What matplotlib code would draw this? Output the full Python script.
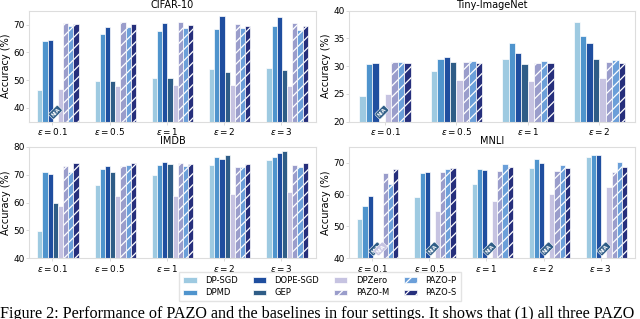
import numpy as np
import matplotlib
matplotlib.use("Agg")
import matplotlib.pyplot as plt
from matplotlib.patches import Patch
import matplotlib.transforms as mtransforms

methods = ["DP-SGD", "DPMD", "DOPE-SGD", "GEP", "DPZero", "PAZO-M", "PAZO-P", "PAZO-S"]
colors = ["#9ecae1", "#4f94cd", "#1f4e9f", "#2f5d87", "#c6c3e1", "#9a9dcb", "#6b9fd9", "#262f7c"]
hatched = [False, False, False, False, False, True, True, True]

eps5 = [r"$\varepsilon=0.1$", r"$\varepsilon=0.5$", r"$\varepsilon=1$", r"$\varepsilon=2$", r"$\varepsilon=3$"]
eps4 = eps5[:4]
NA = np.nan

# rows: methods, cols: epsilon
cifar = [
    [46.5, 49.7, 50.6, 54.0, 54.4],
    [64.1, 66.5, 67.7, 68.3, 69.6],
    [64.6, 69.2, 70.6, 73.0, 72.7],
    [NA, 49.8, 50.6, 52.8, 53.5],
    [46.8, 47.9, 48.3, 48.2, 48.0],
    [70.7, 71.1, 71.1, 70.1, 70.4],
    [69.4, 69.3, 68.7, 68.8, 68.0],
    [70.3, 70.3, 70.0, 69.6, 69.6],
]
tiny = [
    [24.7, 29.1, 31.3, 37.9],
    [30.4, 31.3, 34.1, 35.4],
    [30.6, 31.6, 32.4, 34.2],
    [NA, 30.8, 30.4, 31.3],
    [25.0, 27.5, 27.4, 27.8],
    [30.7, 30.7, 30.6, 30.7],
    [30.8, 30.9, 30.9, 31.1],
    [30.5, 30.5, 30.5, 30.6],
]
imdb = [
    [49.8, 66.2, 69.7, 73.3, 75.4],
    [70.8, 71.9, 73.3, 76.4, 76.4],
    [70.1, 73.0, 74.7, 75.7, 77.6],
    [59.8, 70.8, 73.9, 77.0, 78.5],
    [58.8, 62.3, 62.4, 63.0, 63.7],
    [73.2, 73.0, 74.3, 72.9, 73.5],
    [70.8, 73.4, 73.0, 72.9, 72.6],
    [74.3, 74.0, 73.7, 73.7, 74.0],
]
mnli = [
    [52.5, 59.1, 63.2, 68.2, 71.8],
    [56.3, 66.9, 67.9, 71.3, 72.5],
    [59.6, 67.1, 67.8, 70.0, 72.3],
    [NA, NA, NA, NA, NA],
    [NA, 55.0, 57.9, 60.1, 62.3],
    [66.8, 67.1, 67.5, 67.4, 67.2],
    [63.2, 68.1, 69.6, 69.4, 70.1],
    [68.0, 68.3, 68.7, 68.3, 68.7],
]

panels = [
    ("CIFAR-10", cifar, eps5, (35, 75), [40, 50, 60, 70], [0.0458, 0.6185, 0.4475, 0.348], -0.1),
    ("Tiny-ImageNet", tiny, eps4, (20, 40), [20, 25, 30, 35, 40], [0.5458, 0.6185, 0.4464, 0.348], 0.0),
    ("IMDB", imdb, eps5, (40, 80), [40, 50, 60, 70, 80], [0.0458, 0.190, 0.4475, 0.350], -0.1),
    ("MNLI", mnli, eps5, (40, 75), [40, 50, 60, 70], [0.5458, 0.190, 0.4464, 0.350], -0.1),
]

plt.rcParams["hatch.color"] = "white"
plt.rcParams["hatch.linewidth"] = 0.9

fig = plt.figure(figsize=(6.4, 3.19), dpi=100)
w = 0.09
for title, data, labels, ylim, yticks, rect, tshift in panels:
    ax = fig.add_axes(rect)
    n = len(labels)
    x = np.arange(n)
    trans = mtransforms.blended_transform_factory(ax.transData, ax.transAxes)
    for k, (vals, c, h) in enumerate(zip(data, colors, hatched)):
        pos = x + (k - 3.5) * w
        ax.bar(pos, vals, width=w, color=c, edgecolor="white", linewidth=0.5,
               hatch="///" if h else None, zorder=2)
        for j, v in enumerate(vals):
            if np.isnan(v):
                ax.text(pos[j], 0.085, "N/A", transform=trans, rotation=45,
                        ha="center", va="center", fontsize=3.8, color="white",
                        fontweight="bold",
                        bbox=dict(boxstyle="round,pad=0.25", fc=c, ec="white", lw=0.4),
                        zorder=3)
    ax.set_xlim(-0.5, n - 0.5)
    ax.set_ylim(*ylim)
    ax.set_yticks(yticks)
    ax.set_xticks(x + tshift)
    ax.set_xticklabels(labels)
    ax.tick_params(axis="both", labelsize=6.4, length=2, width=0.5, color="#cccccc", pad=1.2)
    ax.set_ylabel("Accuracy (%)", fontsize=7, labelpad=2)
    ax.set_title(title, fontsize=7, pad=2)
    for s in ax.spines.values():
        s.set_color("#dddddd")
        s.set_linewidth(0.8)

handles = [Patch(facecolor=c, edgecolor="white", linewidth=0.5, hatch="///" if h else None, label=m)
           for m, c, h in zip(methods, colors, hatched)]
fig.legend(handles=handles, ncol=4, loc="center", bbox_to_anchor=(0.5, 0.102),
           fontsize=6, frameon=True, edgecolor="#dddddd", fancybox=False,
           handlelength=1.6, handleheight=0.6, columnspacing=1.8, handletextpad=1.0,
           borderpad=0.45, labelspacing=0.4)

fig.text(0.0, 0.004, "Figure 2: Performance of PAZO and the baselines in four settings. It shows that (1) all three PAZO",
         fontsize=11.6, family="Liberation Serif", ha="left", va="baseline")

fig.savefig("out.png", dpi=100)
